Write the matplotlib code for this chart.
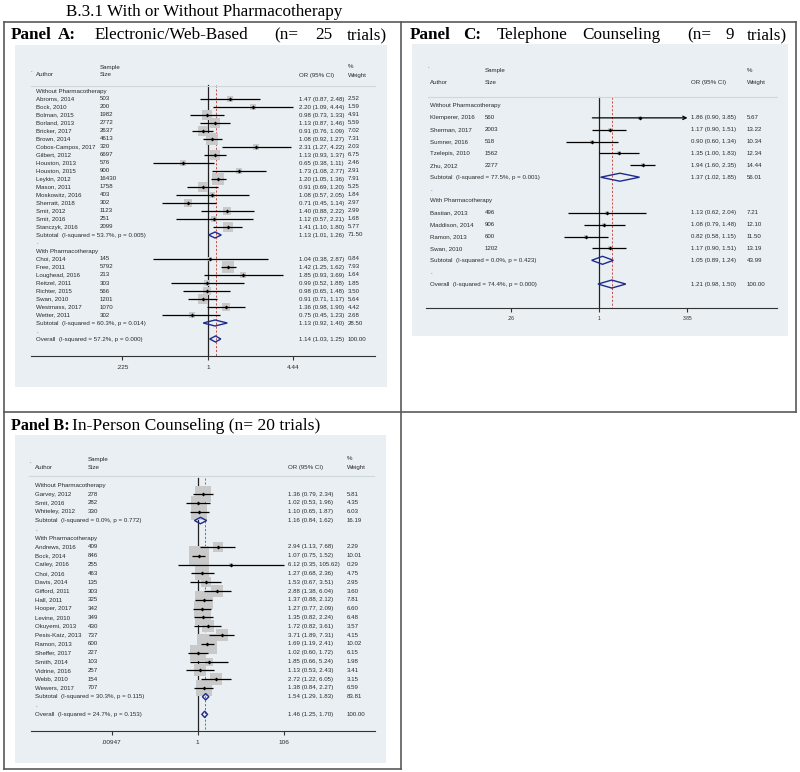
import numpy as np
import matplotlib
matplotlib.use('Agg')
import matplotlib.pyplot as plt
from matplotlib.lines import Line2D
from matplotlib.ticker import NullLocator

W, H = 800, 772
SANS = ['Liberation Sans', 'DejaVu Sans']
SERIF = ['Liberation Serif', 'DejaVu Serif']

# ---------------- DATA ----------------
# Panel A: Electronic/Web-Based
a_wo_authors = ["Abroms, 2014", "Bock, 2010", "Bolman, 2015", "Borland, 2013", "Bricker, 2017",
                "Brown, 2014", "Cobos-Campos, 2017", "Gilbert, 2012", "Houston, 2013", "Houston, 2015",
                "Leykin, 2012", "Mason, 2011", "Moskowitz, 2016", "Sherratt, 2018", "Smit, 2012",
                "Smit, 2016", "Stanczyk, 2016"]
a_wo_n = [503, 200, 1982, 2772, 2637, 4613, 320, 6697, 576, 900, 16430, 1758, 403, 302, 1123, 251, 2099]
a_wo_or = [1.47, 2.20, 0.98, 1.13, 0.91, 1.08, 2.31, 1.13, 0.65, 1.73, 1.20, 0.91, 1.08, 0.71, 1.40, 1.12, 1.41]
a_wo_lo = [0.87, 1.09, 0.73, 0.87, 0.76, 0.92, 1.27, 0.93, 0.38, 1.08, 1.05, 0.69, 0.57, 0.45, 0.88, 0.57, 1.10]
a_wo_hi = [2.48, 4.44, 1.33, 1.46, 1.09, 1.27, 4.22, 1.37, 1.11, 2.77, 1.36, 1.20, 2.05, 1.14, 2.22, 2.21, 1.80]
a_wo_w = [2.52, 1.59, 4.91, 5.59, 7.02, 7.31, 2.03, 6.75, 2.46, 2.91, 7.91, 5.25, 1.84, 2.97, 2.99, 1.68, 5.77]
a_wi_authors = ["Choi, 2014", "Free, 2011", "Loughead, 2016", "Reitzel, 2011", "Richter, 2015",
                "Swan, 2010", "Westmass, 2017", "Wetter, 2011"]
a_wi_n = [145, 5792, 213, 303, 566, 1201, 1070, 302]
a_wi_or = [1.04, 1.42, 1.85, 0.99, 0.98, 0.91, 1.36, 0.75]
a_wi_lo = [0.38, 1.25, 0.93, 0.52, 0.65, 0.71, 0.98, 0.45]
a_wi_hi = [2.87, 1.62, 3.69, 1.88, 1.48, 1.17, 1.90, 1.23]
a_wi_w = [0.84, 7.93, 1.64, 1.85, 3.50, 5.64, 4.42, 2.68]
a_sub_wo = dict(i2="53.7%", p="0.005", est=1.13, lo=1.01, hi=1.26, w="71.50")
a_sub_wi = dict(i2="60.3%", p="0.014", est=1.13, lo=0.92, hi=1.40, w="28.50")
a_overall = dict(i2="57.2%", p="0.000", est=1.14, lo=1.03, hi=1.25, w="100.00")
a_ticks = [0.225, 1, 4.44]
a_ticklabels = [".225", "1", "4.44"]

# Panel B: In-Person Counseling
b_wo_authors = ["Garvey, 2012", "Smit, 2016", "Whiteley, 2012"]
b_wo_n = [278, 282, 330]
b_wo_or = [1.36, 1.02, 1.10]
b_wo_lo = [0.79, 0.53, 0.65]
b_wo_hi = [2.34, 1.96, 1.87]
b_wo_w = [5.81, 4.35, 6.03]
b_wi_authors = ["Andrews, 2016", "Bock, 2014", "Catley, 2016", "Choi, 2016", "Davis, 2014",
                "Gifford, 2011", "Hall, 2011", "Hooper, 2017", "Levine, 2010", "Okuyemi, 2013",
                "Pesis-Katz, 2013", "Ramon, 2013", "Sheffer, 2017", "Smith, 2014", "Vidrine, 2016",
                "Webb, 2010", "Wewers, 2017"]
b_wi_n = [409, 846, 255, 463, 135, 303, 325, 342, 349, 430, 737, 600, 227, 103, 257, 154, 707]
b_wi_or = [2.94, 1.07, 6.12, 1.27, 1.53, 2.88, 1.37, 1.27, 1.35, 1.72, 3.71, 1.69, 1.02, 1.85, 1.13, 2.72, 1.38]
b_wi_lo = [1.13, 0.75, 0.35, 0.68, 0.67, 1.38, 0.88, 0.77, 0.82, 0.82, 1.89, 1.19, 0.60, 0.66, 0.53, 1.22, 0.84]
b_wi_hi = [7.68, 1.52, 105.62, 2.36, 3.51, 6.04, 2.12, 2.09, 2.24, 3.61, 7.31, 2.41, 1.72, 5.24, 2.43, 6.05, 2.27]
b_wi_w = [2.29, 10.01, 0.29, 4.75, 2.95, 3.60, 7.81, 6.60, 6.48, 3.57, 4.15, 10.02, 6.15, 1.98, 3.41, 3.15, 6.59]
b_sub_wo = dict(i2="0.0%", p="0.772", est=1.16, lo=0.84, hi=1.62, w="16.19")
b_sub_wi = dict(i2="30.3%", p="0.115", est=1.54, lo=1.29, hi=1.83, w="83.81")
b_overall = dict(i2="24.7%", p="0.153", est=1.46, lo=1.25, hi=1.70, w="100.00")
b_ticks = [0.00947, 1, 106]
b_ticklabels = [".00947", "1", "106"]

# Panel C: Telephone Counseling
c_wo_authors = ["Klemperer, 2016", "Sherman, 2017", "Sumner, 2016", "Tzelepis, 2010", "Zhu, 2012"]
c_wo_n = [560, 2003, 518, 1562, 2277]
c_wo_or = [1.86, 1.17, 0.90, 1.35, 1.94]
c_wo_lo = [0.90, 0.90, 0.60, 1.00, 1.60]
c_wo_hi = [3.85, 1.51, 1.34, 1.83, 2.35]
c_wo_w = [5.67, 13.22, 10.34, 12.34, 14.44]
c_wi_authors = ["Bastian, 2013", "Maddison, 2014", "Ramon, 2013", "Swan, 2010"]
c_wi_n = [496, 906, 600, 1202]
c_wi_or = [1.13, 1.08, 0.82, 1.17]
c_wi_lo = [0.62, 0.79, 0.58, 0.90]
c_wi_hi = [2.04, 1.48, 1.15, 1.51]
c_wi_w = [7.21, 12.10, 11.50, 13.19]
c_sub_wo = dict(i2="77.5%", p="0.001", est=1.37, lo=1.02, hi=1.85, w="56.01")
c_sub_wi = dict(i2="0.0%", p="0.423", est=1.05, lo=0.89, hi=1.24, w="43.99")
c_overall = dict(i2="74.4%", p="0.000", est=1.21, lo=0.98, hi=1.50, w="100.00")
c_ticks = [0.26, 1, 3.85]
c_ticklabels = [".26", "1", "3.85"]
c_arrow_author = "Klemperer, 2016"   # CI truncated with arrow

# ---------------- STYLE ----------------
BG = '#e9eff2'
TXT = '#2a2a2a'
BOX = '#c9c9c9'
NAVY = '#1f2b8c'
RED = '#c8504a'
FRAME = '#5a5a5a'

fig = plt.figure(figsize=(8, 7.72), dpi=100)


def rect(x0, y0, x1, y1):
    return [x0 / W, 1 - y1 / H, (x1 - x0) / W, (y1 - y0) / H]


def forest(cfg, wo, wi, s_wo, s_wi, ov, ticks, ticklabels, arrow_names=()):
    bg = fig.add_axes(rect(*cfg['bg']))
    bg.set_facecolor(BG)
    bg.set_xticks([]); bg.set_yticks([])
    for s in bg.spines.values():
        s.set_visible(False)
    bg.set_zorder(0)

    ax = fig.add_axes(rect(cfg['axl'], cfg['top'], cfg['axr'], cfg['axis']))
    ax.set_zorder(1)
    ax.patch.set_alpha(0)
    ax.set_xscale('log')
    one, ppl = cfg['one'], cfg['ppl']
    ax.set_xlim(np.exp((cfg['axl'] - one) / ppl), np.exp((cfg['axr'] - one) / ppl))
    r0, rh = cfg['row0'], cfg['rowh']
    ky = lambda py: (py - r0) / rh
    ax.set_ylim(ky(cfg['axis']), ky(cfg['top']))
    for k in ('left', 'right', 'top'):
        ax.spines[k].set_visible(False)
    ax.spines['bottom'].set_color('#333333')
    ax.spines['bottom'].set_linewidth(0.8)
    ax.set_yticks([])
    ax.set_xticks(ticks)
    ax.set_xticklabels(ticklabels)
    ax.xaxis.set_minor_locator(NullLocator())
    ax.tick_params(axis='x', length=3, width=0.8, color='#333333', pad=cfg['tpad'],
                   labelsize=cfg['tfs'], labelcolor=TXT)
    for lab in ax.get_xticklabels():
        lab.set_family(SANS)

    tr = ax.get_yaxis_transform()
    fxa = lambda px: (px - cfg['axl']) / (cfg['axr'] - cfg['axl'])
    fs = 4.4

    def t(px, k, s):
        ax.text(fxa(px), k, s, transform=tr, fontsize=fs, color=TXT, family=SANS,
                ha='left', va='center')

    # header
    ca, cs, co, cw = cfg['cols']
    k1, k2 = ky(cfg['h1']), ky(cfg['h2'])
    t(cfg['dot'][0], ky(cfg['dot'][1]), '.')
    t(cs, k1, 'Sample'); t(cs, k2, 'Size')
    t(ca, k2, 'Author'); t(co, k2, 'OR (95% CI)')
    t(cw, k1, '%'); t(cw, k2, 'Weight')
    kl = ky(cfg['hline'])
    ax.plot([fxa(cfg['hl'][0]), fxa(cfg['hl'][1])], [kl, kl], transform=tr,
            color='#d0d7db', lw=0.8, clip_on=False)

    # reference lines
    kt, kb = ky(cfg['reftop']), ky(cfg['axis'])
    ax.plot([1, 1], [kt, kb], color='#222222', lw=0.9, zorder=1)
    ax.plot([ov['est'], ov['est']], [kt, kb], color=RED, lw=0.7, dashes=(2.2, 1.8), zorder=1)

    def box_side(w):
        return cfg['bside'] * np.sqrt(w / cfg['bref']) * 0.72

    def study_rows(start, authors, n, est, lo, hi, w):
        for i in range(len(authors)):
            k = start + i
            t(ca, k, authors[i]); t(cs, k, str(n[i]))
            t(co, k, f"{est[i]:.2f} ({lo[i]:.2f}, {hi[i]:.2f})")
            t(cw, k, f"{w[i]:.2f}")
            ax.scatter([est[i]], [k], s=box_side(w[i]) ** 2, marker='s', color=BOX,
                       linewidths=0, zorder=2)
            if authors[i] in arrow_names:
                ax.annotate('', xy=(hi[i], k), xytext=(lo[i], k),
                            arrowprops=dict(arrowstyle='->', lw=0.9, color='black',
                                            shrinkA=0, shrinkB=0, mutation_scale=6),
                            zorder=3)
            else:
                ax.plot([lo[i], hi[i]], [k, k], color='black', lw=0.9, zorder=3,
                        solid_capstyle='butt')
            ax.plot([est[i]], [k], marker='D', ms=2.0, color='black', mew=0, zorder=4)
        return start + len(authors)

    def pooled(k, label, d):
        t(ca, k, f"{label}  (I-squared = {d['i2']}, p = {d['p']})")
        t(co, k, f"{d['est']:.2f} ({d['lo']:.2f}, {d['hi']:.2f})")
        t(cw, k, d['w'])
        h = cfg['dh'] / rh
        ax.fill([d['lo'], d['est'], d['hi'], d['est']], [k, k - h, k, k + h],
                facecolor='none', edgecolor=NAVY, lw=1.0, zorder=4)

    k = 0
    t(ca, k, 'Without Pharmacotherapy')
    k = study_rows(1, *wo)
    pooled(k, 'Subtotal', s_wo)
    t(ca, k + 1, '.')
    t(ca, k + 2, 'With Pharmacotherapy')
    k = study_rows(k + 3, *wi)
    pooled(k, 'Subtotal', s_wi)
    t(ca, k + 1, '.')
    pooled(k + 2, 'Overall', ov)
    return ax


cfgA = dict(bg=(15, 45, 387, 387), axl=31, axr=375, one=208, ppl=57.34, row0=91, rowh=8.0,
            axis=355.7, top=52, h1=67, h2=75, hline=86, hl=(31, 375), reftop=85,
            cols=(36, 100, 299, 348), dot=(30, 71), bside=11.5, bref=7.93, dh=3.0,
            tfs=4.6, tpad=3.5)
cfgB = dict(bg=(15, 435, 386, 763), axl=31, axr=375, one=197.7, ppl=18.48, row0=485.3, rowh=8.81,
            axis=731, top=445, h1=459, h2=467.7, hline=476, hl=(29, 374), reftop=478,
            cols=(35, 88, 288, 347), dot=(29, 461.7), bside=20.0, bref=10.0, dh=3.2,
            tfs=4.6, tpad=3.5)
cfgC = dict(bg=(412, 44, 788, 336), axl=426.5, axr=776.7, one=599.3, ppl=65.41, row0=106, rowh=11.87,
            axis=307.7, top=55, h1=70.7, h2=82.3, hline=97.3, hl=(428, 776.7), reftop=97,
            cols=(430, 485, 690.7, 746.7), dot=(427, 66.7), bside=5.0, bref=14.44, dh=4.0,
            tfs=3.6, tpad=3.0)

forest(cfgA, (a_wo_authors, a_wo_n, a_wo_or, a_wo_lo, a_wo_hi, a_wo_w),
       (a_wi_authors, a_wi_n, a_wi_or, a_wi_lo, a_wi_hi, a_wi_w),
       a_sub_wo, a_sub_wi, a_overall, a_ticks, a_ticklabels)
forest(cfgB, (b_wo_authors, b_wo_n, b_wo_or, b_wo_lo, b_wo_hi, b_wo_w),
       (b_wi_authors, b_wi_n, b_wi_or, b_wi_lo, b_wi_hi, b_wi_w),
       b_sub_wo, b_sub_wi, b_overall, b_ticks, b_ticklabels)
forest(cfgC, (c_wo_authors, c_wo_n, c_wo_or, c_wo_lo, c_wo_hi, c_wo_w),
       (c_wi_authors, c_wi_n, c_wi_or, c_wi_lo, c_wi_hi, c_wi_w),
       c_sub_wo, c_sub_wi, c_overall, c_ticks, c_ticklabels, arrow_names=(c_arrow_author,))

# ---------------- FRAMES & TITLES ----------------
def fline(x0, y0, x1, y1):
    fig.add_artist(Line2D([x0 / W, x1 / W], [1 - y0 / H, 1 - y1 / H], color=FRAME, lw=1.2,
                          transform=fig.transFigure))

fline(4, 21.5, 795.5, 21.5)
fline(4, 21.5, 4, 768.5)
fline(401, 21.5, 401, 768.5)
fline(795.5, 21.5, 795.5, 412)
fline(4, 412, 795.5, 412)
fline(4, 768.5, 401, 768.5)

def ftext(x, y, s, bold=False, size=12.3, ha='left'):
    fig.text(x / W, 1 - y / H, s, fontsize=size, family=SERIF, ha=ha, va='baseline',
             fontweight='bold' if bold else 'normal', color='black')

ftext(204, 16, "B.3.1 With or Without Pharmacotherapy", size=12.3, ha='center')
# Panel A heading (justified)
for x, s, b in [(11, "Panel", True), (58, "A:", True), (95, "Electronic/Web-Based", False),
                (274, "(n=", False), (315, "25", False), (347, "trials)", False)]:
    ftext(x, 39, s, bold=b)
# Panel C heading (justified)
for x, s, b in [(410, "Panel", True), (463, "C:", True), (497, "Telephone", False),
                (582, "Counseling", False), (687, "(n=", False), (725, "9", False),
                (747, "trials)", False)]:
    ftext(x, 39, s, bold=b)
# Panel B heading
ftext(11, 430, "Panel B:", bold=True, size=11.6)
ftext(72, 430, "In-Person Counseling (n= 20 trials)", size=12.6)

fig.savefig('out.png', dpi=100)
